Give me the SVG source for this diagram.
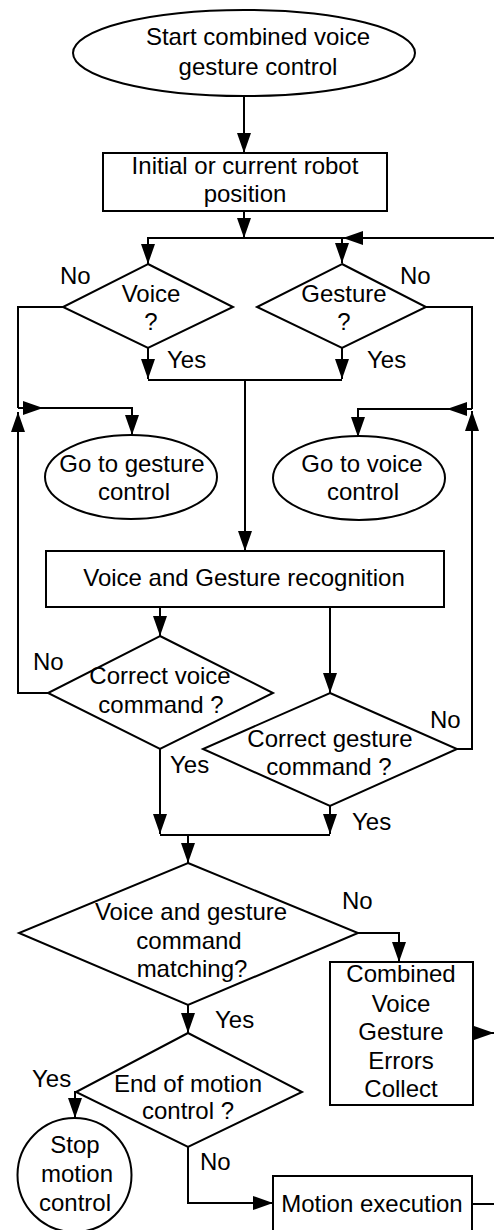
<svg xmlns="http://www.w3.org/2000/svg" width="494" height="1230" viewBox="0 0 494 1230">
<style>
.s{fill:#fff;stroke:#000;stroke-width:2}
.c{fill:none;stroke:#000;stroke-width:2}
text{font-family:"Liberation Sans",Arial,sans-serif;font-size:24px;fill:#000}
.m{text-anchor:middle}
</style>
<defs>
<marker id="a" markerUnits="userSpaceOnUse" markerWidth="20" markerHeight="14" refX="20" refY="7" orient="auto" viewBox="0 0 20 14">
<path d="M0,0 L20,7 L0,14 z" fill="#000"/>
</marker>
</defs>
<rect width="494" height="1230" fill="#fff"/>
<g id="connectors" class="c" marker-end="url(#a)">
<path d="M244,96 L244,153"/>
<path d="M244,211 L244,238"/>
<path d="M494,238 L343,238"/>
<path d="M343,238 L148,238 L148,264"/>
<path d="M342,238 L342,263"/>
<path d="M148,348 L148,379"/>
<path d="M342,348 L342,379"/>
<path d="M148,380 L342,380" marker-end="none"/>
<path d="M245,380 L245,551"/>
<path d="M63,307 L18,307 L18,408" marker-end="none"/>
<path d="M48,693 L18,693 L18,412"/>
<path d="M18,408 L43,408"/>
<path d="M43,408 L132,408 L132,435"/>
<path d="M426,307 L472,307 L472,409" marker-end="none"/>
<path d="M457,749 L472,749 L472,411"/>
<path d="M472,409 L447,409"/>
<path d="M447,409 L358,409 L358,437"/>
<path d="M160,607 L160,636"/>
<path d="M330,607 L330,693"/>
<path d="M160,749 L160,834"/>
<path d="M330,806 L330,834"/>
<path d="M160,835 L330,835" marker-end="none"/>
<path d="M188,835 L188,863"/>
<path d="M358,933 L399,933 L399,962"/>
<path d="M473,1033 L494,1033"/>
<path d="M188,1005 L188,1033"/>
<path d="M76,1092 L75,1092 L75,1118"/>
<path d="M188,1147 L188,1203 L273,1203"/>
<path d="M472,1204 L494,1204" marker-end="none"/>
</g>
<g id="start">
<ellipse class="s" cx="244" cy="53" rx="171" ry="43"/>
<text class="m" x="258" y="45">Start combined voice</text>
<text class="m" x="258" y="75">gesture control</text>
</g>
<g id="initial">
<rect class="s" x="103" y="153" width="284" height="58"/>
<text class="m" x="245" y="174">Initial or current robot</text>
<text class="m" x="245" y="202">position</text>
</g>
<g id="voice">
<polygon class="s" points="148,264 233,307 148,348 63,307"/>
<text class="m" x="151" y="302">Voice</text>
<text class="m" x="151" y="330">?</text>
</g>
<g id="gesture">
<polygon class="s" points="342,264 426,307 342,348 257,307"/>
<text class="m" x="344" y="302">Gesture</text>
<text class="m" x="344" y="330">?</text>
</g>
<g id="goto-gesture">
<ellipse class="s" cx="131" cy="477" rx="86" ry="42"/>
<text class="m" x="132" y="472">Go to gesture</text>
<text class="m" x="134" y="500">control</text>
</g>
<g id="goto-voice">
<ellipse class="s" cx="359" cy="478" rx="86" ry="42"/>
<text class="m" x="362" y="472">Go to voice</text>
<text class="m" x="363" y="500">control</text>
</g>
<g id="recognition">
<rect class="s" x="46" y="551" width="398" height="56"/>
<text class="m" x="244" y="586">Voice and Gesture recognition</text>
</g>
<g id="correct-voice">
<polygon class="s" points="160,636 273,693 160,749 48,693"/>
<text class="m" x="160" y="684">Correct voice</text>
<text class="m" x="161" y="713">command ?</text>
</g>
<g id="correct-gesture">
<polygon class="s" points="330,693 457,749 330,806 203,749"/>
<text class="m" x="330" y="747">Correct gesture</text>
<text class="m" x="329" y="775">command ?</text>
</g>
<g id="matching">
<polygon class="s" points="188,863 358,933 188,1005 19,933"/>
<text class="m" x="191" y="920">Voice and gesture</text>
<text class="m" x="189" y="949">command</text>
<text class="m" x="192" y="977">matching?</text>
</g>
<g id="errors">
<rect class="s" x="330" y="962" width="143" height="143"/>
<text class="m" x="401" y="982">Combined</text>
<text class="m" x="401" y="1012">Voice</text>
<text class="m" x="401" y="1040">Gesture</text>
<text class="m" x="401" y="1069">Errors</text>
<text class="m" x="401" y="1097">Collect</text>
</g>
<g id="end">
<polygon class="s" points="188,1033 302,1092 188,1147 76,1092"/>
<text class="m" x="188" y="1092">End of motion</text>
<text class="m" x="188" y="1119">control ?</text>
</g>
<g id="stop">
<circle class="s" cx="74.5" cy="1175" r="57"/>
<text class="m" x="75" y="1153">Stop</text>
<text class="m" x="77" y="1182">motion</text>
<text class="m" x="75" y="1211">control</text>
</g>
<g id="motion">
<rect class="s" x="273" y="1176" width="199" height="70"/>
<text class="m" x="372" y="1212">Motion execution</text>
</g>
<g id="labels">
<text x="60" y="284">No</text>
<text x="400" y="284">No</text>
<text x="167" y="368">Yes</text>
<text x="367" y="368">Yes</text>
<text x="33" y="670">No</text>
<text x="430" y="728">No</text>
<text x="170" y="773">Yes</text>
<text x="352" y="830">Yes</text>
<text x="342" y="909">No</text>
<text x="215" y="1028">Yes</text>
<text x="32" y="1087">Yes</text>
<text x="200" y="1170">No</text>
</g>
</svg>
